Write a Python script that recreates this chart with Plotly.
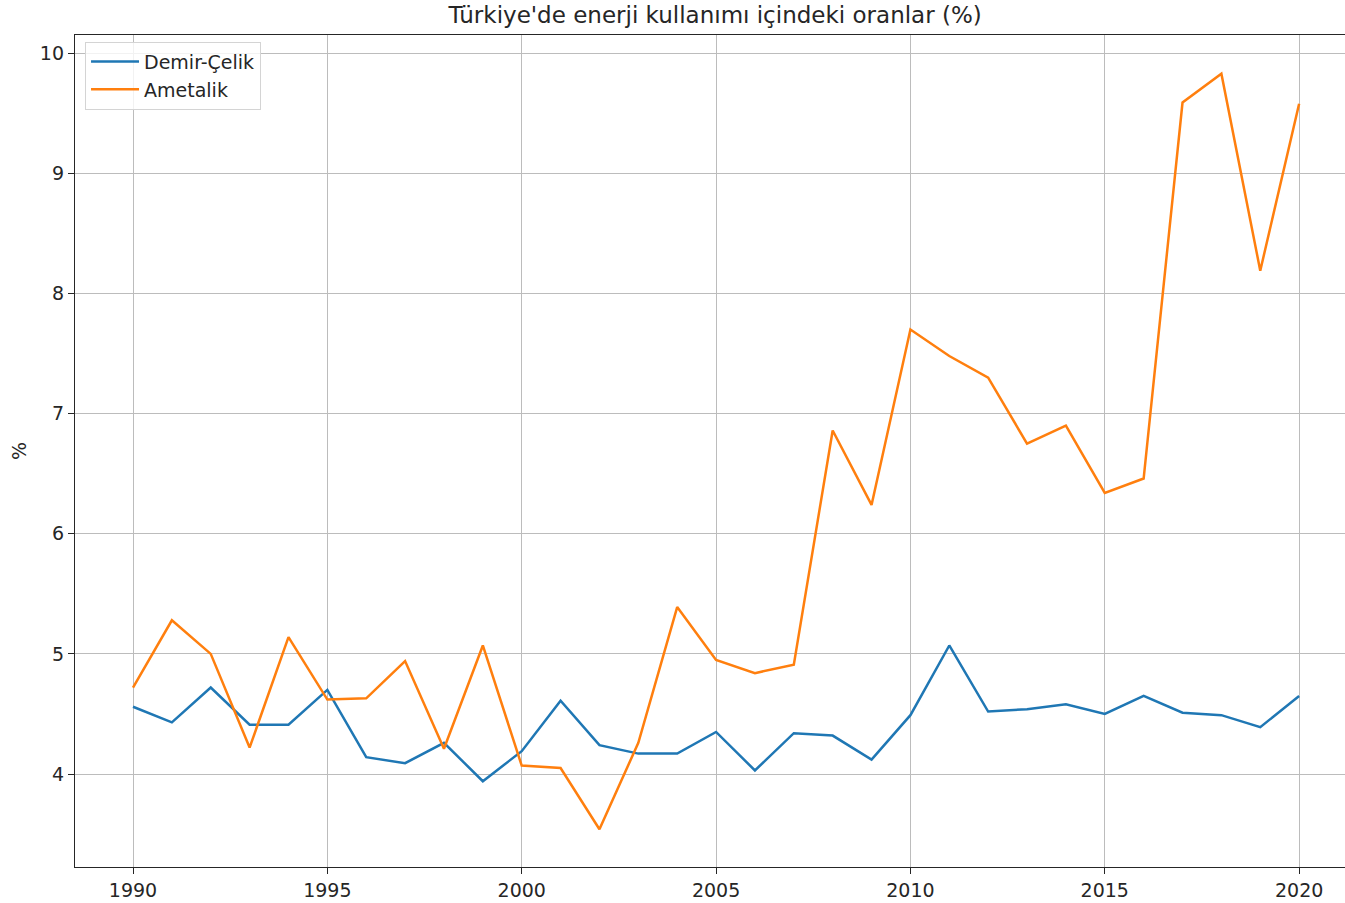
import plotly.graph_objects as go

years = list(range(1990, 2021))
demir_celik = [4.56, 4.43, 4.72, 4.41, 4.41, 4.70, 4.14, 4.09, 4.26, 3.94,
               4.19, 4.61, 4.24, 4.17, 4.17, 4.35, 4.03, 4.34, 4.32, 4.12,
               4.49, 5.07, 4.52, 4.54, 4.58, 4.50, 4.65, 4.51, 4.49, 4.39, 4.65]
ametalik = [4.72, 5.28, 5.00, 4.22, 5.14, 4.62, 4.63, 4.94, 4.21, 5.07,
            4.07, 4.05, 3.54, 4.26, 5.39, 4.95, 4.84, 4.91, 6.86, 6.24,
            7.70, 7.48, 7.30, 6.75, 6.90, 6.34, 6.46, 9.59, 9.83, 8.19, 9.58]
x_ticks = [1990, 1995, 2000, 2005, 2010, 2015, 2020]
y_ticks = [4, 5, 6, 7, 8, 9, 10]

FONT = "DejaVu Sans"
TXT = "#262626"

fig = go.Figure()
fig.add_trace(go.Scatter(x=years, y=demir_celik, mode="lines", name="Demir-Çelik",
                         line=dict(color="#1f77b4", width=2.5)))
fig.add_trace(go.Scatter(x=years, y=ametalik, mode="lines", name="Ametalik",
                         line=dict(color="#ff7f0e", width=2.5)))

fig.update_layout(
    width=1345, height=903,
    margin=dict(l=75, r=0, t=35, b=36),
    paper_bgcolor="white", plot_bgcolor="white",
    font=dict(family=FONT, size=19, color=TXT),
    title=dict(text="Türkiye'de enerji kullanımı içindeki oranlar (%)",
               x=0.504, xref="paper", y=1 - 15 / 903, yref="container",
               xanchor="center", yanchor="middle",
               font=dict(family=FONT, size=23, color=TXT)),
    showlegend=True,
    legend=dict(x=0.0079, y=0.992, xanchor="left", yanchor="top",
                bgcolor="rgba(255,255,255,0.8)", bordercolor="#d4d4d4", borderwidth=1,
                font=dict(family=FONT, size=19, color=TXT),
                itemwidth=48),
)
fig.update_xaxes(range=[1988.508, 2021.18], tickvals=x_ticks,
                 showgrid=True, gridcolor="#bcbcbc", gridwidth=1.2,
                 showline=True, linecolor="#262626", linewidth=1.3, mirror=True,
                 ticks="outside", ticklen=6, tickwidth=1.3, tickcolor="#262626",
                 zeroline=False)
fig.update_yaxes(range=[3.226, 10.152], tickvals=y_ticks,
                 title=dict(text="%", font=dict(family=FONT, size=19, color=TXT), standoff=8),
                 showgrid=True, gridcolor="#bcbcbc", gridwidth=1.2,
                 showline=True, linecolor="#262626", linewidth=1.3,
                 ticks="outside", ticklen=6, tickwidth=1.3, tickcolor="#262626",
                 zeroline=False)

fig.write_html("out.html", config={"displayModeBar": False},
               post_script="document.body.style.margin='0';document.body.style.overflow='hidden';")
